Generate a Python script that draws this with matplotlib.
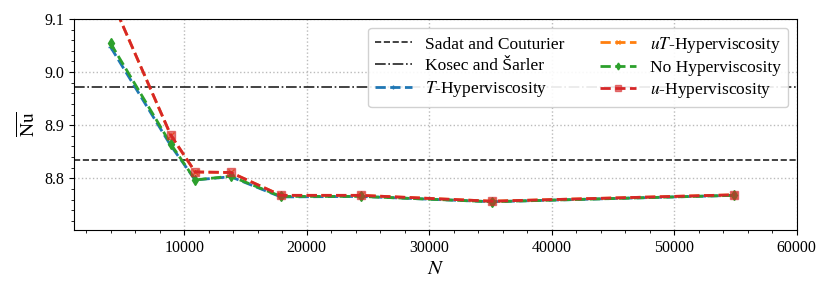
import matplotlib
matplotlib.use("Agg")
import matplotlib.pyplot as plt
from matplotlib.ticker import AutoMinorLocator

# Node counts and average Nusselt numbers
N = [4000, 8900, 10900, 13800, 17900, 24400, 35100, 54900]
nu_T = [9.047, 8.862, 8.797, 8.803, 8.765, 8.766, 8.756, 8.768]
nu_uT = [9.140, 8.881, 8.812, 8.811, 8.768, 8.768, 8.757, 8.769]
nu_none = [9.054, 8.865, 8.797, 8.804, 8.766, 8.766, 8.756, 8.768]
nu_u = [9.140, 8.882, 8.812, 8.811, 8.768, 8.768, 8.757, 8.769]

nu_sadat = 8.834
nu_kosec = 8.972

plt.rcParams["font.family"] = ["Liberation Serif", "DejaVu Serif"]
plt.rcParams["mathtext.fontset"] = "stix"

fig = plt.figure(figsize=(8.3, 2.91), dpi=100)
ax = fig.add_axes([0.089, 0.21, 0.871, 0.725])

ax.axhline(nu_sadat, color="#222222", ls="--", lw=1.2, label="Sadat and Couturier")
ax.axhline(nu_kosec, color="#222222", ls="-.", lw=1.2, label="Kosec and Šarler")

ax.plot(N, nu_T, color="tab:blue", ls="--", lw=2, marker="+", ms=5,
        label="$T$-Hyperviscosity")
ax.plot(N, nu_uT, color="tab:orange", ls="--", lw=2, marker="x", ms=4,
        label="$uT$-Hyperviscosity")
ax.plot(N, nu_none, color="tab:green", ls="--", lw=2, marker="d", ms=5,
        label="No Hyperviscosity")
ax.plot(N, nu_u, color="tab:red", ls="--", lw=2, marker="s", ms=6,
        mfc=(0.84, 0.15, 0.16, 0.6), label="$u$-Hyperviscosity")

ax.set_xlim(1000, 60000)
ax.set_ylim(8.703, 9.1)
ax.set_yticks([8.8, 8.9, 9.0, 9.1])
ax.xaxis.set_minor_locator(AutoMinorLocator(5))
ax.yaxis.set_minor_locator(AutoMinorLocator(5))
ax.tick_params(which="both", direction="out", labelsize=11.5)
ax.grid(True, ls=":", color="#bbbbbb", lw=1)

ax.set_xlabel("$N$", fontsize=15, labelpad=3)
ax.set_ylabel(r"$\overline{\mathrm{Nu}}$", fontsize=14)

ax.legend(loc="upper right", ncol=2, fontsize=12.5, handlelength=2.1,
          columnspacing=2.0, labelspacing=0.3, framealpha=0.9,
          markerscale=0.7)

fig.savefig("out.png", dpi=100)
